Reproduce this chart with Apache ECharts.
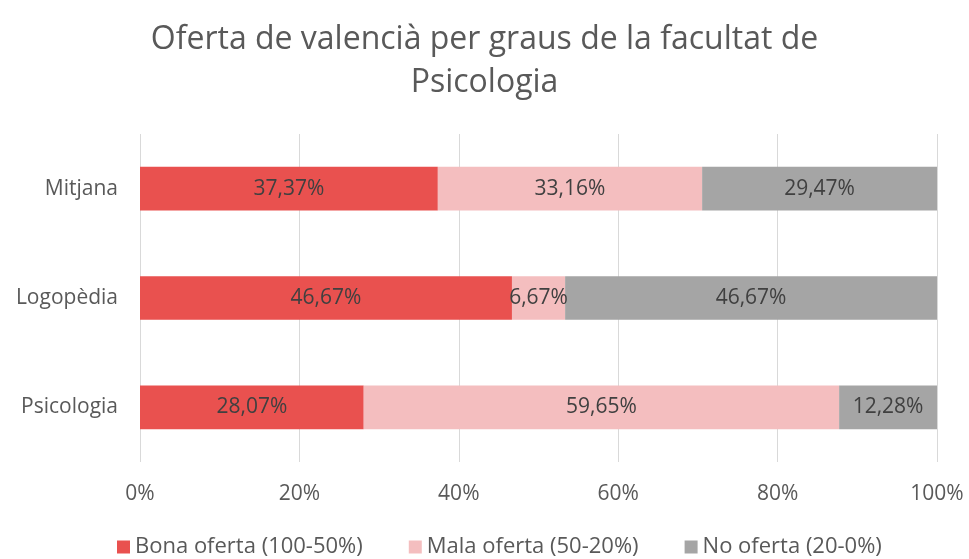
<!DOCTYPE html>
<html>
<head>
<meta charset="utf-8">
<script src="https://cdn.jsdelivr.net/npm/echarts@6/dist/echarts.min.js"></script>
<style>
  html, body { margin: 0; padding: 0; background: #fff; }
  #chart-container { width: 969px; height: 559px; }
</style>
</head>
<body>
<div id="chart-container"></div>
<script>
// Chart data
const categories = ['Psicologia', 'Logopèdia', 'Mitjana'];
const seriesNames = ['Bona oferta (100-50%)', 'Mala oferta (50-20%)', 'No oferta (20-0%)'];
const bona = [28.07, 46.67, 37.37];
const mala = [59.65, 6.67, 33.16];
const noOferta = [12.28, 46.67, 29.47];
const colors = ['#E9514F', '#F4BEBF', '#A5A5A5'];

const chartContainer = document.getElementById('chart-container');
const myChart = echarts.init(chartContainer);

const fontFamily = '"Open Sans", "Noto Sans", sans-serif';

function fmt(v) {
  return v.toFixed(2).replace('.', ',') + '%';
}

const option = {
  animation: false,
  textStyle: { fontFamily: fontFamily },
  title: {
    text: 'Oferta de valencià per graus de la facultat de\nPsicologia',
    left: 'center',
    top: 13,
    textStyle: {
      color: '#595959',
      fontSize: 32,
      fontWeight: 'normal',
      lineHeight: 43,
      fontFamily: fontFamily
    }
  },
  legend: {
    top: 531,
    left: 112,
    itemWidth: 13,
    itemHeight: 13,
    itemGap: 46,
    icon: 'rect',
    textStyle: { color: '#595959', fontSize: 22, fontFamily: fontFamily },
    data: seriesNames
  },
  grid: {
    left: 140,
    right: 32,
    top: 134,
    bottom: 97
  },
  xAxis: {
    type: 'value',
    min: 0,
    max: 100,
    interval: 20,
    axisLabel: {
      color: '#595959',
      fontSize: 21,
      margin: 22,
      formatter: '{value}%'
    },
    axisLine: { show: false },
    axisTick: { show: false },
    splitLine: { lineStyle: { color: '#D9D9D9', width: 1 } }
  },
  yAxis: {
    type: 'category',
    data: categories,
    axisLabel: { color: '#595959', fontSize: 21, margin: 22 },
    axisLine: { show: false },
    axisTick: { show: false }
  },
  series: [bona, mala, noOferta].map(function (vals, i) {
    return {
      name: seriesNames[i],
      type: 'bar',
      stack: 'total',
      barWidth: '40%',
      data: vals,
      itemStyle: { color: colors[i] },
      label: {
        show: true,
        position: 'inside',
        color: '#404040',
        fontSize: 21,
        formatter: function (p) { return fmt(p.value); }
      }
    };
  })
};

myChart.setOption(option);
</script>
</body>
</html>
